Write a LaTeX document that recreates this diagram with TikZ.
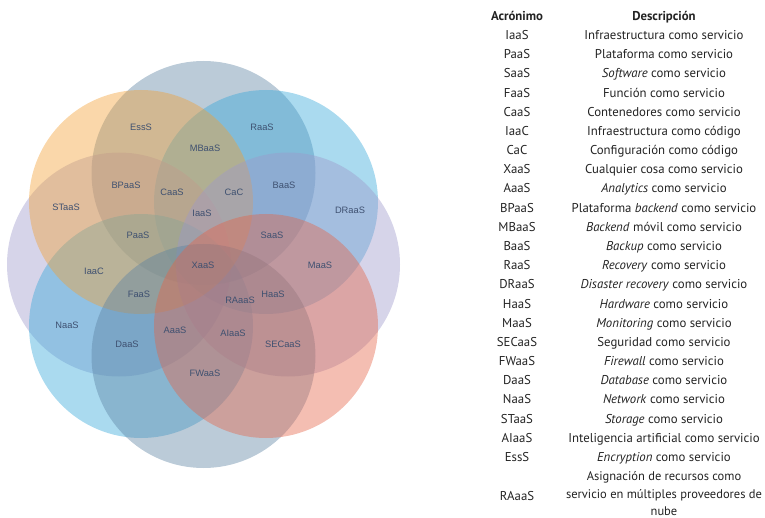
\documentclass[tikz,border=0pt]{standalone}
\usepackage{fontspec}
\setmainfont{PT Sans}
\newfontfamily\labelfont{Liberation Sans}
\definecolor{cgray}{RGB}{92,130,162}
\definecolor{cblue}{RGB}{52,167,217}
\definecolor{clav}{RGB}{157,152,202}
\definecolor{csalmon}{RGB}{228,100,72}
\definecolor{corange}{RGB}{242,160,52}
\definecolor{labelcol}{RGB}{62,80,112}
\definecolor{tabcol}{RGB}{35,35,35}
\tikzset{
  petal/.style={fill opacity=0.42, draw=none},
  tag/.style={font=\labelfont\fontsize{9.3}{10}\selectfont, text=labelcol, inner sep=0pt},
  acr/.style={font=\fontsize{12.8}{15}\selectfont, text=tabcol, inner sep=0pt, anchor=base},
  desc/.style={font=\fontsize{12.8}{15}\selectfont, text=tabcol, inner sep=0pt, anchor=base},
  longdesc/.style={font=\fontsize{12.5}{15}\selectfont, text=tabcol, inner sep=0pt, anchor=base},
  head/.style={font=\bfseries\fontsize{12.8}{15}\selectfont, text=tabcol, inner sep=0pt, anchor=base}
}
\begin{document}
\begin{tikzpicture}[x=1pt,y=-1pt]
\useasboundingbox (0,0) rectangle (765,518);
% eight overlapping circles arranged in a ring (stacking order matters)
\def\rr{112pt}
\fill[petal, cgray]    (203.5,173) circle[radius=\rr];
\fill[petal, cblue]    (266,202)   circle[radius=\rr];
\fill[petal, clav]     (119,264.5) circle[radius=\rr];
\fill[petal, cblue]    (141,326)   circle[radius=\rr];
\fill[petal, corange]  (141,202)   circle[radius=\rr];
\fill[petal, clav]     (288,264.5) circle[radius=\rr];
\fill[petal, cgray]    (203.5,356) circle[radius=\rr];
\fill[petal, csalmon]  (266,326)   circle[radius=\rr];
% acronyms inside the circles
\node[tag] (l-ess)   at (141,127) {EssS};
\node[tag] (l-raas)  at (262,127) {RaaS};
\node[tag] (l-mbaas) at (205,148) {MBaaS};
\node[tag] (l-bpaas) at (126,185) {BPaaS};
\node[tag] (l-caas)  at (172,192) {CaaS};
\node[tag] (l-cac)   at (234,192) {CaC};
\node[tag] (l-baas)  at (284,185) {BaaS};
\node[tag] (l-staas) at (66,207) {STaaS};
\node[tag] (l-draas) at (350,210) {DRaaS};
\node[tag] (l-iaas)  at (202,213) {IaaS};
\node[tag] (l-paas)  at (138,235) {PaaS};
\node[tag] (l-saas)  at (272,235) {SaaS};
\node[tag] (l-xaas)  at (203,265) {XaaS};
\node[tag] (l-iaac)  at (94,271) {IaaC};
\node[tag] (l-maas)  at (320,265) {MaaS};
\node[tag] (l-faas)  at (139,294) {FaaS};
\node[tag] (l-haas)  at (273,294) {HaaS};
\node[tag] (l-raaas) at (240,300) {RAaaS};
\node[tag] (l-naas)  at (67,325) {NaaS};
\node[tag] (l-aaas)  at (175,330) {AaaS};
\node[tag] (l-aiaas) at (233,333) {AIaaS};
\node[tag] (l-daas)  at (127,344) {DaaS};
\node[tag] (l-secaas) at (283,344) {SECaaS};
\node[tag] (l-fwaas) at (205,373) {FWaaS};
% table of acronyms
\def\ax{517}
\def\dx{664}
\node[head] (h-acr)  at (\ax,21) {Acrónimo};
\node[head] (h-desc) at (\dx,21) {Descripción};
\foreach \i/\a/\d in {
  0/IaaS/{Infraestructura como servicio},
  1/PaaS/{Plataforma como servicio},
  2/SaaS/{\textit{Software} como servicio},
  3/FaaS/{Función como servicio},
  4/CaaS/{Contenedores como servicio},
  5/IaaC/{Infraestructura como código},
  6/CaC/{Configuración como código},
  7/XaaS/{Cualquier cosa como servicio},
  8/AaaS/{\textit{Analytics} como servicio},
  9/BPaaS/{Plataforma \textit{backend} como servicio},
  10/MBaaS/{\textit{Backend} móvil como servicio},
  11/BaaS/{\textit{Backup} como servicio},
  12/RaaS/{\textit{Recovery} como servicio},
  13/DRaaS/{\textit{Disaster recovery} como servicio},
  14/HaaS/{\textit{Hardware} como servicio},
  15/MaaS/{\textit{Monitoring} como servicio},
  16/SECaaS/{Seguridad como servicio},
  17/FWaaS/{\textit{Firewall} como servicio},
  18/DaaS/{\textit{Database} como servicio},
  19/NaaS/{\textit{Network} como servicio},
  20/STaaS/{\textit{Storage} como servicio},
  21/AIaaS/{Inteligencia artificial como servicio},
  22/EssS/{\textit{Encryption} como servicio}}{
  \node[acr]  (a-\i) at (\ax,{39.5+19.18*\i}) {\a};
  \node[desc] (d-\i) at (\dx,{39.5+19.18*\i}) {\d};
}
\node[acr] (a-23) at (\ax,500.5) {RAaaS};
\node[longdesc] (d-23a) at (\dx,480.5) {Asignación de recursos como};
\node[longdesc] (d-23b) at (\dx,498.5) {servicio en múltiples proveedores de};
\node[longdesc] (d-23c) at (\dx,515.5) {nube};
\end{tikzpicture}
\end{document}
